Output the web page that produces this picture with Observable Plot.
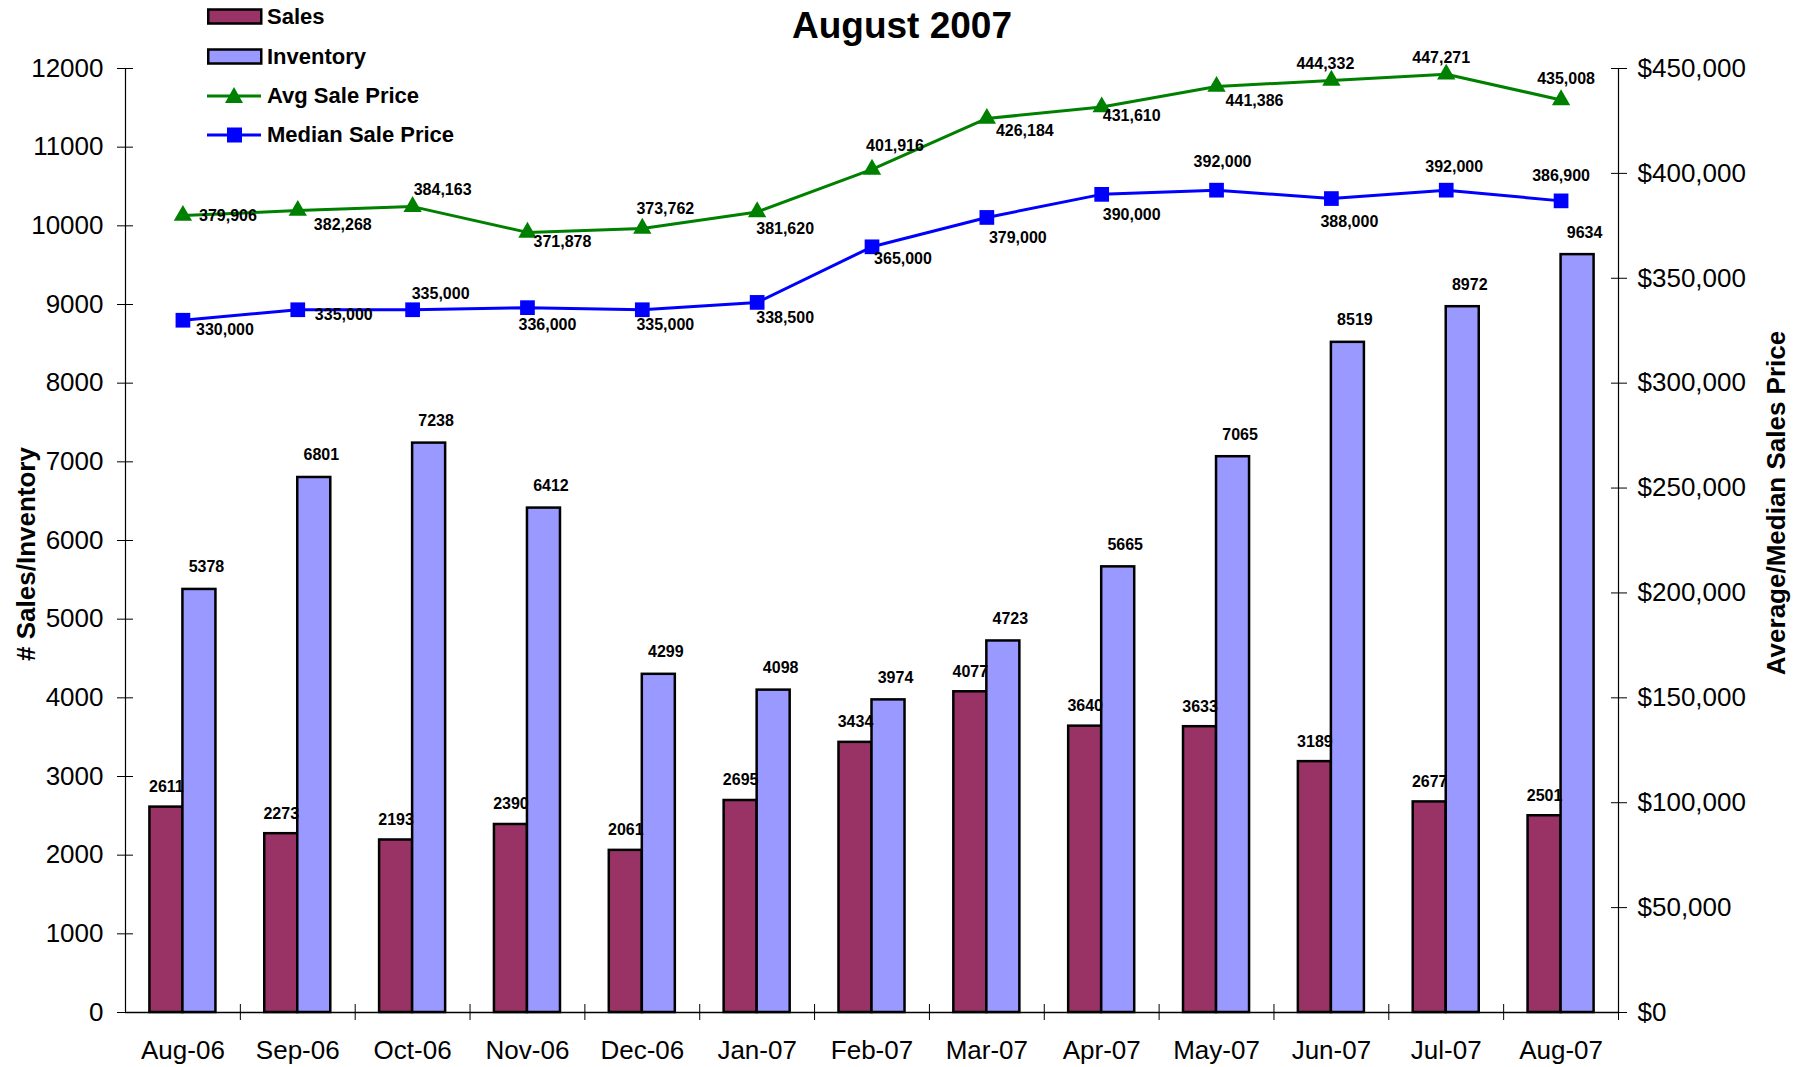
<!DOCTYPE html>
<html><head><meta charset="utf-8">
<script src="https://cdn.jsdelivr.net/npm/d3@7"></script>
<script src="https://cdn.jsdelivr.net/npm/@observablehq/plot@0.6"></script>
<style>
body{margin:0;background:#fff;}
#wrap{position:relative;width:1809px;height:1067px;font-family:"Liberation Sans",Arial,sans-serif;color:#000;overflow:hidden;}
#wrap svg{display:block;}
.title{position:absolute;left:902px;top:26px;transform:translate(-50%,-50%);font-size:37px;font-weight:bold;white-space:nowrap;}
.ytitle{position:absolute;font-size:26px;font-weight:bold;white-space:nowrap;transform:translate(-50%,-50%) rotate(-90deg);}
.row{position:absolute;left:207px;height:30px;display:flex;align-items:center;white-space:nowrap;font-size:22px;font-weight:bold;}
.row svg{margin-right:4px;}
</style></head>
<body><div id="wrap"></div>
<script>
// ---- data ----
const months = ["Aug-06","Sep-06","Oct-06","Nov-06","Dec-06","Jan-07","Feb-07","Mar-07","Apr-07","May-07","Jun-07","Jul-07","Aug-07"];
const sales = [2611,2273,2193,2390,2061,2695,3434,4077,3640,3633,3189,2677,2501];
const inventory = [5378,6801,7238,6412,4299,4098,3974,4723,5665,7065,8519,8972,9634];
const avgPrice = [379906,382268,384163,371878,373762,381620,401916,426184,431610,441386,444332,447271,435008];
const medianPrice = [330000,335000,335000,336000,335000,338500,365000,379000,390000,392000,388000,392000,386900];
const leftTicks = [0,1000,2000,3000,4000,5000,6000,7000,8000,9000,10000,11000,12000];
const rightTicks = [0,50000,100000,150000,200000,250000,300000,350000,400000,450000];
const seriesNames = ["Sales","Inventory","Avg Sale Price","Median Sale Price"];
const titleText = "August 2007";
const leftTitle = "# Sales/Inventory";
const rightTitle = "Average/Median Sales Price";

// ---- label placement (layout only) ----
const avgLabelOffsets = [[45,0],[45,14],[30,-17],[35,9],[23,-20],[28,17],[23,-23],[38,12],[30,9],[38,14],[-6,-17],[-5,-16],[5,-21]];
const medianLabelOffsets = [[42,10],[46,5],[28,-16],[20,17],[23,15],[28,15],[31,12],[31,20],[30,21],[6,-28],[18,23],[8,-23],[0,-25]];

// ---- layout ----
const W = 1809, H = 1067, mL = 125, mR = 191, mT = 68, mB = 55;
const pInner = 0.425, pOuter = 0.2125;
const step = (W - mL - mR) / (months.length - pInner + 2 * pOuter);
const bw = step * (1 - pInner);
const k = leftTicks[leftTicks.length - 1] / rightTicks[rightTicks.length - 1];
const colors = {sales: "#993366", inventory: "#9999FF", avg: "#008000", median: "#0000FF"};
const font = '"Liberation Sans", Arial, sans-serif';
const fmt = d3.format(",");

const data = months.map((m, i) => ({month: m, sales: sales[i], inventory: inventory[i], avg: avgPrice[i], median: medianPrice[i]}));

const labelStyle = {fontSize: 16, fontWeight: "bold", fill: "#000", textAnchor: "middle", lineAnchor: "middle"};

const avgLabels = data.map((d, i) => Plot.text([d], {x: "month", y: (e) => e.avg * k, text: (e) => fmt(e.avg), dx: avgLabelOffsets[i][0], dy: avgLabelOffsets[i][1], ...labelStyle}));
const medLabels = data.map((d, i) => Plot.text([d], {x: "month", y: (e) => e.median * k, text: (e) => fmt(e.median), dx: medianLabelOffsets[i][0], dy: medianLabelOffsets[i][1], ...labelStyle}));

const chart = Plot.plot({
  width: W, height: H, marginLeft: mL, marginRight: mR, marginTop: mT, marginBottom: mB,
  style: {fontFamily: font, fontSize: "26px", color: "#000", background: "#fff", overflow: "visible"},
  x: {type: "band", domain: months, paddingInner: pInner, paddingOuter: pOuter, round: false},
  y: {domain: [0, leftTicks[leftTicks.length - 1]]},
  marks: [
    Plot.barY(data, {x: "month", y: "sales", fill: colors.sales, stroke: "#000", strokeWidth: 2.5, insetRight: bw / 2}),
    Plot.barY(data, {x: "month", y: "inventory", fill: colors.inventory, stroke: "#000", strokeWidth: 2.5, insetLeft: bw / 2}),
    Plot.text(data, {x: "month", y: "sales", text: (d) => String(d.sales), dx: -bw / 4, dy: -15, fontSize: 16, fontWeight: "bold", lineAnchor: "bottom"}),
    Plot.text(data, {x: "month", y: "inventory", text: (d) => String(d.inventory), dx: bw / 4 + 7, dy: -17, fontSize: 16, fontWeight: "bold", lineAnchor: "bottom"}),
    Plot.line(data, {x: "month", y: (d) => d.avg * k, stroke: colors.avg, strokeWidth: 3}),
    Plot.dot(data, {x: "month", y: (d) => d.avg * k, symbol: "triangle", r: 6.8, fill: colors.avg, stroke: "none"}),
    Plot.line(data, {x: "month", y: (d) => d.median * k, stroke: colors.median, strokeWidth: 3}),
    Plot.dot(data, {x: "month", y: (d) => d.median * k, symbol: "square", r: 8.3, fill: colors.median, stroke: "none"}),
    ...avgLabels,
    ...medLabels,
    Plot.frame({anchor: "left", stroke: "#000", strokeWidth: 1.2}),
    Plot.frame({anchor: "right", stroke: "#000", strokeWidth: 1.2}),
    Plot.ruleY([0], {stroke: "#000", strokeWidth: 1.5}),
    Plot.axisY(leftTicks, {tickSize: 16, dx: 8, fill: "none", stroke: "#000", label: null}),
    Plot.axisY(leftTicks, {tickSize: 0, tickPadding: 22, label: null, tickFormat: (d) => String(d), fontSize: 26}),
    Plot.axisY(rightTicks.map((v) => v * k), {anchor: "right", tickSize: 16, dx: -8, fill: "none", stroke: "#000", label: null}),
    Plot.axisY(rightTicks.map((v) => v * k), {anchor: "right", tickSize: 0, tickPadding: 19, label: null, tickFormat: (v) => "$" + fmt(Math.round(v / k)), fontSize: 26}),
    Plot.axisX({tickSize: 16, dy: -8, dx: step / 2, fill: "none", stroke: "#000", label: null}),
    Plot.axisX({tickSize: 0, tickPadding: 28, label: null, fontSize: 26})
  ]
});

const wrap = document.getElementById("wrap");
wrap.appendChild(chart);

// title
const t = document.createElement("div");
t.className = "title"; t.textContent = titleText; wrap.appendChild(t);

// axis titles
const lt = document.createElement("div");
lt.className = "ytitle"; lt.textContent = leftTitle; lt.style.left = "26px"; lt.style.top = "554px"; wrap.appendChild(lt);
const rt = document.createElement("div");
rt.className = "ytitle"; rt.textContent = rightTitle; rt.style.left = "1776px"; rt.style.top = "503px"; wrap.appendChild(rt);

// legend
const legendKinds = [
  {kind: "bar", color: colors.sales},
  {kind: "bar", color: colors.inventory},
  {kind: "line", color: colors.avg, symbol: "triangle"},
  {kind: "line", color: colors.median, symbol: "square"}
];
const rowCenters = [17, 57, 96, 135];
seriesNames.forEach((name, i) => {
  const row = document.createElement("div");
  row.className = "row";
  row.style.top = (rowCenters[i] - 15) + "px";
  const it = legendKinds[i];
  let sw;
  if (it.kind === "bar") {
    sw = `<svg width="56" height="22"><rect x="1.25" y="3.5" width="53" height="14" fill="${it.color}" stroke="#000" stroke-width="2.5"/></svg>`;
  } else {
    const mk = it.symbol === "triangle"
      ? `<path d="M27,2 L36,18 L18,18 Z" fill="${it.color}"/>`
      : `<rect x="20" y="3.5" width="15" height="15" fill="${it.color}"/>`;
    sw = `<svg width="56" height="22"><line x1="0" x2="54" y1="11" y2="11" stroke="${it.color}" stroke-width="3"/>${mk}</svg>`;
  }
  row.innerHTML = sw + `<span>${name}</span>`;
  wrap.appendChild(row);
});
</script>
</body></html>
